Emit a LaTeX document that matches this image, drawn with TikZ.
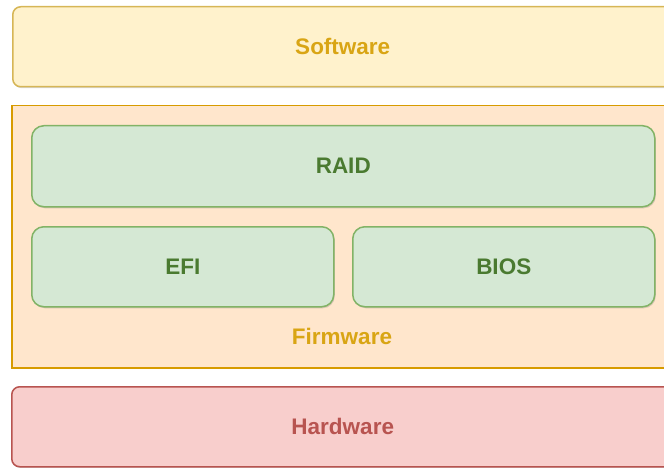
\documentclass[tikz,border=0pt]{standalone}
\usepackage{fontspec}
\setmainfont{Liberation Sans}
\usetikzlibrary{shadows}
\definecolor{swfill}{HTML}{FFF2CC}
\definecolor{swline}{HTML}{D6B656}
\definecolor{fwfill}{HTML}{FFE6CC}
\definecolor{fwline}{HTML}{D79B00}
\definecolor{gfill}{HTML}{D5E8D4}
\definecolor{gline}{HTML}{82B366}
\definecolor{rfill}{HTML}{F8CECC}
\definecolor{rline}{HTML}{B85450}
\definecolor{goldtext}{HTML}{D9A514}
\definecolor{greentext}{HTML}{4A7A30}
\definecolor{redtext}{HTML}{B85450}
\tikzset{
  layer/.style={draw, line width=1.5pt, inner sep=0pt, anchor=north west,
    drop shadow={shadow xshift=1pt, shadow yshift=-1.5pt, opacity=0.25, fill=black!60},
    font=\fontsize{22.5}{27}\selectfont\bfseries},
  greenbox/.style={layer, fill=gfill, draw=gline, rounded corners=12pt, text=greentext},
}
\begin{document}
\begin{tikzpicture}[x=1pt,y=-1pt]
\useasboundingbox (0,0) rectangle (664,468);
\clip (0,0) rectangle (664,468);
\node[layer, fill=swfill, draw=swline, rounded corners=8pt, text=goldtext,
  minimum width=660pt, minimum height=80pt] (sw) at (12,6) {Software};
\node[layer, fill=fwfill, draw=fwline, text=goldtext,
  minimum width=662pt, minimum height=262pt] (fw) at (11,105) {};
\node[greenbox, minimum width=623pt, minimum height=81pt] (raid) at (31,125) {RAID};
\node[greenbox, minimum width=302pt, minimum height=80pt] (efi) at (31,226) {EFI};
\node[greenbox, minimum width=302pt, minimum height=80pt] (bios) at (352,226) {BIOS};
\node[font=\fontsize{22.5}{27}\selectfont\bfseries, text=goldtext] (fwlabel) at (342,336) {Firmware};
\node[layer, fill=rfill, draw=rline, rounded corners=8pt, text=redtext,
  minimum width=662pt, minimum height=80pt] (hw) at (11,386) {Hardware};
\end{tikzpicture}
\end{document}
